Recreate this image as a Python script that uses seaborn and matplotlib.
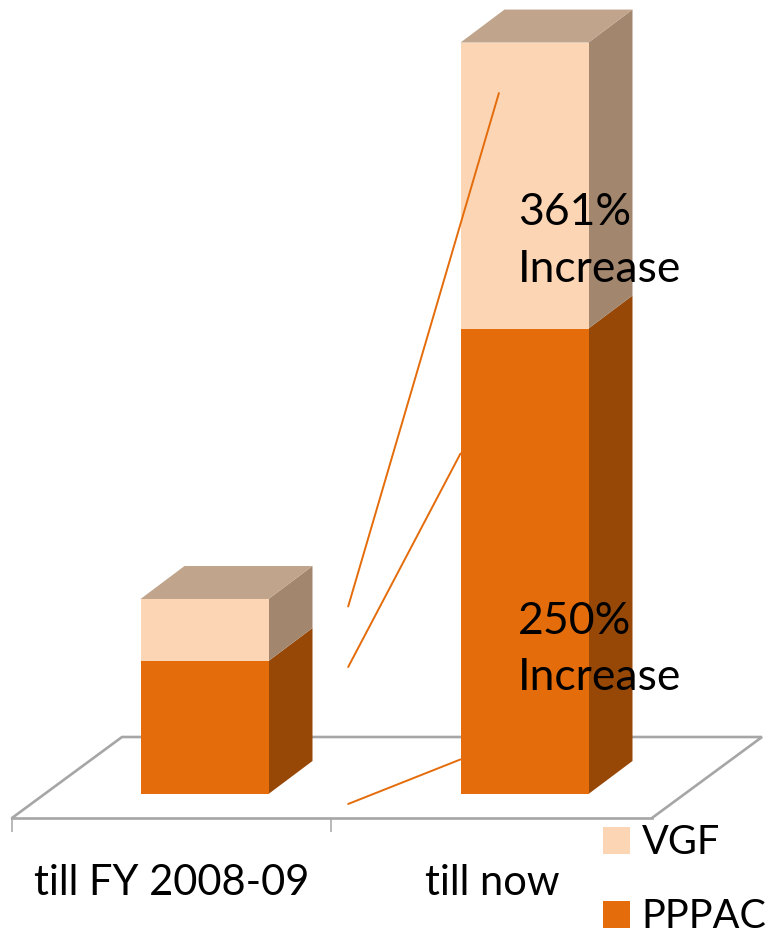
import matplotlib
matplotlib.use("Agg")
import matplotlib.pyplot as plt
from matplotlib.patches import Polygon
import seaborn as sns

categories = ["till FY 2008-09", "till now"]
pppac = [100, 350]
vgf = [46.6, 215]
bar_notes = [(0.98, 385, "361%\nIncrease"), (0.98, 78, "250%\nIncrease")]
connector_x = [0.449, 0.449, 0.449]
connector_from_y = [141, 95.5, -7.5]
connector_to = [(0.92, 527), (0.80, 256), (0.80, 26)]

C_PPPAC, C_VGF = "#E46C0A", "#FCD5B5"
C_PPPAC_SIDE, C_VGF_SIDE, C_TOP = "#974806", "#A2866E", "#C0A48B"
GREY = "#A6A6A6"
FONT = ["Lato", "DejaVu Sans"]

W, H = 768, 930
PX_X, PX_Y = 320, 1.33          # pixels per category / per value unit
L, R, FLOOR_PY, ZERO_PY = 12, 652, 818, 794
DX, DY = 44 / PX_X, 33 / PX_Y   # bar depth
FDX, FDY = 110 / PX_X, 81 / PX_Y  # floor depth
LABEL_SHIFT = 32.5 / PX_X

sns.set_theme(style="white")
plt.rcParams["font.family"] = FONT
fig = plt.figure(figsize=(W / 100, H / 100), dpi=100)
ax = fig.add_axes([L / W, (H - FLOOR_PY) / H, (R - L) / W, FLOOR_PY / H])
ax.patch.set_visible(False)

sns.barplot(x=categories, y=pppac, color=C_PPPAC, saturation=1, width=0.4, ax=ax, zorder=4, linewidth=0)
sns.barplot(x=categories, y=vgf, bottom=pppac, color=C_VGF, saturation=1, width=0.4, ax=ax, zorder=4, linewidth=0)

x0 = (L - 204.5) / PX_X
x1 = (R - 204.5) / PX_X
y0 = -(FLOOR_PY - ZERO_PY) / PX_Y
y1 = ZERO_PY / PX_Y
ax.set_xlim(x0, x1)
ax.set_ylim(y0, y1)

# 3-D faces, derived from the bars themselves
for i, p in enumerate(ax.patches):
    xr, yb, yt = p.get_x() + p.get_width(), p.get_y(), p.get_y() + p.get_height()
    side = C_PPPAC_SIDE if i < len(categories) else C_VGF_SIDE
    ax.add_patch(Polygon([(xr, yb), (xr + DX, yb + DY), (xr + DX, yt + DY), (xr, yt)],
                         fc=side, ec="none", zorder=3, clip_on=False))
    if i >= len(categories):
        xl = p.get_x()
        ax.add_patch(Polygon([(xl, yt), (xl + DX, yt + DY), (xr + DX, yt + DY), (xr, yt)],
                             fc=C_TOP, ec="none", zorder=3, clip_on=False))

# floor
ax.plot([x0, x0 + FDX, x1 + FDX, x1], [y0, y0 + FDY, y0 + FDY, y0], color=GREY, lw=1.9,
        clip_on=False, zorder=1, solid_joinstyle="miter")

# axis
for s in ["top", "left", "right"]:
    ax.spines[s].set_visible(False)
ax.spines["bottom"].set_color(GREY)
ax.spines["bottom"].set_linewidth(1.9)
ax.set_yticks([])
ax.set_xticks([i - LABEL_SHIFT for i in range(len(categories))], categories)
ax.tick_params(axis="x", which="major", length=0, pad=33, labelsize=30, labelcolor="black")
ax.set_xticks([x0, x0 + (x1 - x0) * 319 / 640], minor=True)
ax.tick_params(axis="x", which="minor", bottom=True, length=14 * 0.72, width=1.1, color=GREY)

# connectors and notes
for xa, ya, (xb, yb) in zip(connector_x, connector_from_y, connector_to):
    ax.plot([xa, xb], [ya, yb], color=C_PPPAC, lw=1.4, zorder=5, clip_on=False)
for x, y, t in bar_notes:
    ax.text(x, y, t, fontsize=32, color="black", zorder=6, va="baseline", ha="left",
            linespacing=1.47, clip_on=False)

# legend
handles = [ax.containers[1], ax.containers[0]]
leg = fig.legend(handles, ["VGF", "PPPAC"], loc="lower left",
                 bbox_to_anchor=(603 / W, (H - 935) / H), frameon=False, fontsize=28.5,
                 handlelength=0.68, handleheight=0.68, handletextpad=0.3,
                 labelspacing=0.93, borderpad=0, borderaxespad=0, labelcolor="black")

fig.savefig("out.png", dpi=100)
